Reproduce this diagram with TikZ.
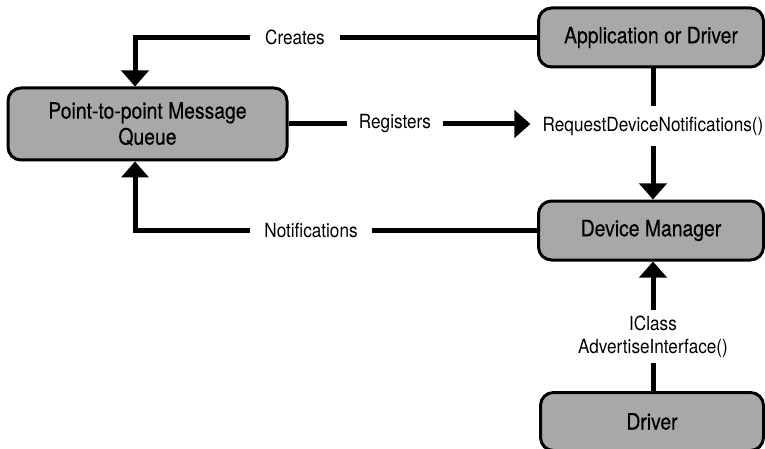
\documentclass[tikz,border=0pt]{standalone}
\usepackage{fontspec}
\setmainfont{TeX Gyre Heros}[FakeStretch=0.88]
\newfontfamily\boxfont{TeX Gyre Heros}[FakeStretch=0.86,FakeBold=0.4]
\usetikzlibrary{arrows.meta}
\definecolor{boxgray}{gray}{0.66}
\tikzset{
  box/.style={draw=black, line width=3pt, fill=boxgray, rounded corners=13pt,
    inner sep=0pt, align=center, font=\boxfont\fontsize{22.5}{26}\selectfont},
  lbl/.style={inner xsep=14pt, inner ysep=0pt, font=\fontsize{19.5}{23}\selectfont},
  conn/.style={line width=5pt},
  arr/.style={line width=5pt, -{Triangle[width=27pt,length=16pt]}},
}
\begin{document}
\begin{tikzpicture}[x=1pt,y=-1pt]
\useasboundingbox (0,0) rectangle (765,449);
% boxes
\node[box, minimum width=279pt, minimum height=72pt] (ptp) at (147.5,124) {Point-to-point Message\\Queue};
\node[box, minimum width=225pt, minimum height=59pt] (app) at (651,37.5) {Application or Driver};
\node[box, minimum width=225pt, minimum height=59pt] (dm) at (651,230.5) {Device Manager};
\node[box, minimum width=223pt, minimum height=58pt] (drv) at (652,421.5) {Driver};
% labels
\node[lbl, inner xsep=15pt] (creates) at (295,37.5) {Creates};
\node[lbl, inner xsep=12pt] (registers) at (395,124) {Registers};
\node[lbl, inner xsep=14pt] (notif) at (311,230.5) {Notifications};
\node[lbl, inner xsep=12pt, minimum height=40pt] (req) at (653,126) {RequestDeviceNotifications()};
\node[lbl, align=center, minimum height=53pt] (adv) at (653,336.5) {IClass\\AdvertiseInterface()};
% connectors
\draw[conn] (app.west) -- (creates.east);
\draw[arr] (creates.west) -| ([xshift=-12.5pt]ptp.north);
\draw[conn] (ptp.east) -- (ptp.east -| registers.west);
\draw[arr] (registers.east |- ptp.east) -- (req.west |- ptp.east);
\draw[conn] (app.south -| adv) -- (req.north -| adv);
\draw[arr] (req.south -| adv) -- (dm.north -| adv);
\draw[conn] (dm.west) -- (notif.east);
\draw[arr] (notif.west) -| ([xshift=-12.5pt]ptp.south);
\draw[conn] (drv.north -| adv) -- (adv.south);
\draw[arr] (adv.north) -- (dm.south -| adv);
\end{tikzpicture}
\end{document}
